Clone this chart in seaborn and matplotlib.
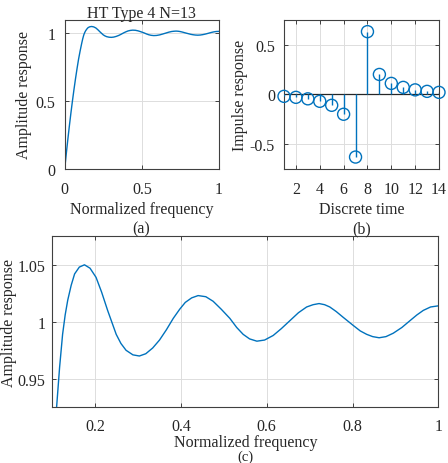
import numpy as np
import pandas as pd
import matplotlib
matplotlib.use('Agg')
import matplotlib.pyplot as plt
import seaborn as sns

# amplitude response (normalized frequency, amplitude)
freq = [0.0, 0.01, 0.02, 0.03, 0.04, 0.05, 0.06, 0.07, 0.08, 0.09, 0.10,
        0.110, 0.117, 0.124, 0.130, 0.136, 0.144, 0.152, 0.163, 0.175, 0.188,
        0.202, 0.215, 0.229, 0.249, 0.260, 0.272, 0.288, 0.303, 0.318, 0.334,
        0.350, 0.366, 0.382, 0.397, 0.410, 0.425, 0.440, 0.458, 0.475, 0.494,
        0.514, 0.530, 0.545, 0.560, 0.577, 0.595, 0.615, 0.634, 0.654, 0.674,
        0.693, 0.708, 0.722, 0.735, 0.747, 0.762, 0.778, 0.801, 0.818, 0.833,
        0.847, 0.862, 0.878, 0.895, 0.915, 0.934, 0.950, 0.965, 0.982, 1.000]
amp = [0.0, 0.11, 0.215, 0.315, 0.41, 0.50, 0.585, 0.665, 0.74, 0.81, 0.87,
       0.925, 0.960, 0.989, 1.006, 1.019, 1.032, 1.042, 1.048, 1.050, 1.047,
       1.039, 1.026, 1.010, 0.989, 0.981, 0.975, 0.971, 0.970, 0.972, 0.977,
       0.984, 0.993, 1.003, 1.011, 1.017, 1.021, 1.023, 1.022, 1.018, 1.011,
       1.003, 0.995, 0.989, 0.985, 0.983, 0.984, 0.988, 0.994, 1.001, 1.008,
       1.013, 1.015, 1.016, 1.015, 1.013, 1.009, 1.004, 0.997, 0.992, 0.989,
       0.987, 0.986, 0.987, 0.990, 0.995, 1.001, 1.006, 1.010, 1.013, 1.014]

# impulse response
n = list(range(1, 15))
h = [-0.02, -0.03, -0.045, -0.07, -0.11, -0.2, -0.63,
     0.63, 0.2, 0.11, 0.07, 0.045, 0.03, 0.02]

df_amp = pd.DataFrame({'f': freq, 'A': amp})
df_h = pd.DataFrame({'n': n, 'h': h})

sns.set_theme(style='ticks')
plt.rcParams['font.family'] = ['Liberation Serif', 'DejaVu Serif']

blue = '#0072BD'
spine = '#404040'
fs = 11.5

fig = plt.figure(figsize=(4.48, 4.64), dpi=100)
W, H = 448, 464


def px_axes(l, t, r, b):
    return fig.add_axes([l / W, 1 - b / H, (r - l) / W, (b - t) / H])


def style(ax, xpad=8.5, ypad=6.5):
    for s in ax.spines.values():
        s.set_color(spine)
        s.set_linewidth(0.8)
    ax.tick_params(direction='in', length=3, width=0.7, color=spine,
                   top=True, right=True, labelsize=fs, labelcolor='#262626')
    ax.tick_params(axis='x', pad=xpad)
    ax.tick_params(axis='y', pad=ypad)
    ax.grid(True, color='#dddddd', linewidth=0.7)
    ax.set_axisbelow(True)


ax_a = px_axes(64.7, 20.7, 219, 170)
ax_b = px_axes(284, 20.7, 439, 170)
ax_c = px_axes(52.3, 237.3, 438.3, 408.3)

# (a)
sns.lineplot(data=df_amp, x='f', y='A', ax=ax_a, color=blue, linewidth=1.0)
ax_a.set_xlim(0, 1)
ax_a.set_ylim(0, 1.1)
ax_a.set_xticks([0, 0.5, 1])
ax_a.set_xticklabels(['0', '0.5', '1'])
ax_a.set_yticks([0, 0.5, 1])
ax_a.set_yticklabels(['0', '0.5', '1'])
ax_a.set_xlabel('Normalized frequency', fontsize=fs, labelpad=3)
ax_a.set_ylabel('Amplitude response', fontsize=fs, labelpad=3)
ax_a.set_title('HT Type 4 N=13', fontsize=fs, pad=2)
style(ax_a)

# (b)
ax_b.axhline(0, color='#262626', linewidth=0.9, zorder=2)
ax_b.vlines(df_h['n'], 0, df_h['h'], color=blue, linewidth=1.0, zorder=3)
sns.scatterplot(data=df_h, x='n', y='h', ax=ax_b, s=75, facecolor='none',
                edgecolor=blue, linewidth=1.0, zorder=4, clip_on=False)
ax_b.set_xlim(1, 14)
ax_b.set_ylim(-0.75, 0.75)
ax_b.set_xticks([2, 4, 6, 8, 10, 12, 14])
ax_b.set_yticks([-0.5, 0, 0.5])
ax_b.set_yticklabels(['-0.5', '0', '0.5'])
ax_b.set_xlabel('Discrete time', fontsize=fs, labelpad=3)
ax_b.set_ylabel('Impulse response', fontsize=fs, labelpad=1)
style(ax_b)

# (c) zoomed passband
sns.lineplot(data=df_amp, x='f', y='A', ax=ax_c, color=blue, linewidth=1.0)
ax_c.set_xlim(0.1, 1)
ax_c.set_ylim(0.925, 1.075)
ax_c.set_xticks([0.2, 0.4, 0.6, 0.8, 1])
ax_c.set_xticklabels(['0.2', '0.4', '0.6', '0.8', '1'])
ax_c.set_yticks([0.95, 1, 1.05])
ax_c.set_yticklabels(['0.95', '1', '1.05'])
ax_c.set_xlabel('Normalized frequency', fontsize=fs, labelpad=0)
ax_c.set_ylabel('Amplitude response', fontsize=fs, labelpad=0)
style(ax_c, xpad=7.5, ypad=5)

fig.text(141 / W, 1 - 229 / H, '(a)', ha='center', va='center', fontsize=fs, color='#262626')
fig.text(361.5 / W, 1 - 229 / H, '(b)', ha='center', va='center', fontsize=fs, color='#262626')
fig.text(245 / W, 0.0, '(c)', ha='center', va='bottom', fontsize=10.5, color='#262626')

fig.savefig('out.png', dpi=100)
